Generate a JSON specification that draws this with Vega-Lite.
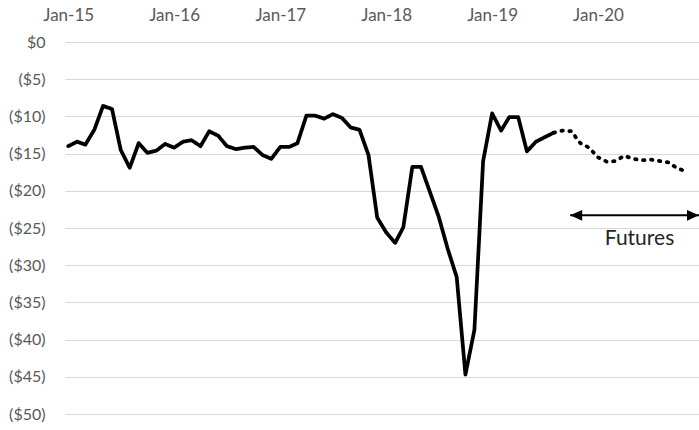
{
  "$schema": "https://vega.github.io/schema/vega-lite/v6.json",
  "width": 634,
  "height": 372,
  "autosize": {"type": "none"},
  "padding": {"left": 65, "top": 42, "right": 0, "bottom": 16},
  "background": "white",
  "config": {
    "view": {"stroke": null},
    "font": "Lato",
    "axis": {"labelFont": "Lato", "labelColor": "#595959", "labelFontSize": 16},
    "axisX": {"labelFontSize": 17}
  },
  "datasets": {
    "prices": [
      {"date": "2015-01-01", "value": -14.0, "series": "Actual"},
      {"date": "2015-02-01", "value": -13.4, "series": "Actual"},
      {"date": "2015-03-01", "value": -13.8, "series": "Actual"},
      {"date": "2015-04-01", "value": -11.8, "series": "Actual"},
      {"date": "2015-05-01", "value": -8.6, "series": "Actual"},
      {"date": "2015-06-01", "value": -9.0, "series": "Actual"},
      {"date": "2015-07-01", "value": -14.5, "series": "Actual"},
      {"date": "2015-08-01", "value": -16.9, "series": "Actual"},
      {"date": "2015-09-01", "value": -13.6, "series": "Actual"},
      {"date": "2015-10-01", "value": -14.9, "series": "Actual"},
      {"date": "2015-11-01", "value": -14.6, "series": "Actual"},
      {"date": "2015-12-01", "value": -13.7, "series": "Actual"},
      {"date": "2016-01-01", "value": -14.2, "series": "Actual"},
      {"date": "2016-02-01", "value": -13.4, "series": "Actual"},
      {"date": "2016-03-01", "value": -13.2, "series": "Actual"},
      {"date": "2016-04-01", "value": -14.0, "series": "Actual"},
      {"date": "2016-05-01", "value": -12.0, "series": "Actual"},
      {"date": "2016-06-01", "value": -12.6, "series": "Actual"},
      {"date": "2016-07-01", "value": -14.0, "series": "Actual"},
      {"date": "2016-08-01", "value": -14.4, "series": "Actual"},
      {"date": "2016-09-01", "value": -14.2, "series": "Actual"},
      {"date": "2016-10-01", "value": -14.1, "series": "Actual"},
      {"date": "2016-11-01", "value": -15.2, "series": "Actual"},
      {"date": "2016-12-01", "value": -15.7, "series": "Actual"},
      {"date": "2017-01-01", "value": -14.1, "series": "Actual"},
      {"date": "2017-02-01", "value": -14.1, "series": "Actual"},
      {"date": "2017-03-01", "value": -13.6, "series": "Actual"},
      {"date": "2017-04-01", "value": -9.9, "series": "Actual"},
      {"date": "2017-05-01", "value": -9.9, "series": "Actual"},
      {"date": "2017-06-01", "value": -10.3, "series": "Actual"},
      {"date": "2017-07-01", "value": -9.7, "series": "Actual"},
      {"date": "2017-08-01", "value": -10.2, "series": "Actual"},
      {"date": "2017-09-01", "value": -11.5, "series": "Actual"},
      {"date": "2017-10-01", "value": -11.8, "series": "Actual"},
      {"date": "2017-11-01", "value": -15.2, "series": "Actual"},
      {"date": "2017-12-01", "value": -23.6, "series": "Actual"},
      {"date": "2018-01-01", "value": -25.6, "series": "Actual"},
      {"date": "2018-02-01", "value": -27.0, "series": "Actual"},
      {"date": "2018-03-01", "value": -24.9, "series": "Actual"},
      {"date": "2018-04-01", "value": -16.8, "series": "Actual"},
      {"date": "2018-05-01", "value": -16.8, "series": "Actual"},
      {"date": "2018-06-01", "value": -20.2, "series": "Actual"},
      {"date": "2018-07-01", "value": -23.5, "series": "Actual"},
      {"date": "2018-08-01", "value": -27.8, "series": "Actual"},
      {"date": "2018-09-01", "value": -31.6, "series": "Actual"},
      {"date": "2018-10-01", "value": -44.7, "series": "Actual"},
      {"date": "2018-11-01", "value": -38.7, "series": "Actual"},
      {"date": "2018-12-01", "value": -16.0, "series": "Actual"},
      {"date": "2019-01-01", "value": -9.6, "series": "Actual"},
      {"date": "2019-02-01", "value": -11.9, "series": "Actual"},
      {"date": "2019-03-01", "value": -10.1, "series": "Actual"},
      {"date": "2019-04-01", "value": -10.1, "series": "Actual"},
      {"date": "2019-05-01", "value": -14.7, "series": "Actual"},
      {"date": "2019-06-01", "value": -13.4, "series": "Actual"},
      {"date": "2019-07-01", "value": -12.8, "series": "Actual"},
      {"date": "2019-08-01", "value": -12.2, "series": "Actual"},
      {"date": "2019-08-01", "value": -12.2, "series": "Futures"},
      {"date": "2019-09-01", "value": -11.9, "series": "Futures"},
      {"date": "2019-10-01", "value": -12.0, "series": "Futures"},
      {"date": "2019-11-01", "value": -13.6, "series": "Futures"},
      {"date": "2019-12-01", "value": -14.2, "series": "Futures"},
      {"date": "2020-01-01", "value": -15.5, "series": "Futures"},
      {"date": "2020-02-01", "value": -16.1, "series": "Futures"},
      {"date": "2020-03-01", "value": -16.0, "series": "Futures"},
      {"date": "2020-04-01", "value": -15.3, "series": "Futures"},
      {"date": "2020-05-01", "value": -15.7, "series": "Futures"},
      {"date": "2020-06-01", "value": -15.9, "series": "Futures"},
      {"date": "2020-07-01", "value": -15.8, "series": "Futures"},
      {"date": "2020-08-01", "value": -16.0, "series": "Futures"},
      {"date": "2020-09-01", "value": -16.2, "series": "Futures"},
      {"date": "2020-10-01", "value": -17.0, "series": "Futures"},
      {"date": "2020-11-01", "value": -17.4, "series": "Futures"}
    ],
    "arrow": [
      {"start": "2019-09-27", "end": "2020-12-14", "y": -23.3}
    ],
    "label": [
      {"date": "2020-05-23", "y": -26.5, "text": "Futures"}
    ]
  },
  "layer": [
    {
      "data": {"name": "prices"},
      "mark": {"type": "line", "color": "black", "strokeWidth": 3.75, "strokeCap": "round", "strokeJoin": "round"},
      "encoding": {
        "x": {
          "field": "date", "type": "temporal",
          "scale": {"type": "utc", "domain": [{"year": 2014, "month": 12, "date": 21, "utc": true}, {"year": 2020, "month": 12, "date": 14, "utc": true}]},
          "axis": {
            "orient": "top", "title": null, "grid": false, "domain": false, "ticks": false,
            "labelPadding": 18, "labelExpr": "utcFormat(datum.value, '%b-%y')",
            "values": [
              {"year": 2015, "month": 1, "date": 1, "utc": true},
              {"year": 2016, "month": 1, "date": 1, "utc": true},
              {"year": 2017, "month": 1, "date": 1, "utc": true},
              {"year": 2018, "month": 1, "date": 1, "utc": true},
              {"year": 2019, "month": 1, "date": 1, "utc": true},
              {"year": 2020, "month": 1, "date": 1, "utc": true}
            ]
          }
        },
        "y": {
          "field": "value", "type": "quantitative",
          "scale": {"domain": [-50, 0], "nice": false, "zero": false},
          "axis": {
            "title": null, "domain": false, "ticks": false, "grid": true,
            "gridColor": "#d9d9d9", "gridWidth": 1.2, "labelPadding": 20,
            "values": [0, -5, -10, -15, -20, -25, -30, -35, -40, -45, -50],
            "labelExpr": "datum.value == 0 ? '$0\u00a0' : '($' + abs(datum.value) + ')'"
          }
        },
        "detail": {"field": "series"},
        "strokeDash": {
          "field": "series", "type": "nominal",
          "scale": {"domain": ["Actual", "Futures"], "range": [[1, 0], [1.5, 6.5]]},
          "legend": null
        }
      }
    },
    {
      "data": {"name": "arrow"},
      "mark": {"type": "rule", "color": "black", "strokeWidth": 2},
      "encoding": {
        "x": {"field": "start", "type": "temporal", "axis": {
            "orient": "top", "title": null, "grid": false, "domain": false, "ticks": false,
            "labelPadding": 18, "labelExpr": "utcFormat(datum.value, '%b-%y')",
            "values": [
              {"year": 2015, "month": 1, "date": 1, "utc": true},
              {"year": 2016, "month": 1, "date": 1, "utc": true},
              {"year": 2017, "month": 1, "date": 1, "utc": true},
              {"year": 2018, "month": 1, "date": 1, "utc": true},
              {"year": 2019, "month": 1, "date": 1, "utc": true},
              {"year": 2020, "month": 1, "date": 1, "utc": true}
            ]
          }},
        "x2": {"field": "end"},
        "y": {"field": "y", "type": "quantitative", "axis": {
            "title": null, "domain": false, "ticks": false, "grid": true,
            "gridColor": "#d9d9d9", "gridWidth": 1.2, "labelPadding": 20,
            "values": [0, -5, -10, -15, -20, -25, -30, -35, -40, -45, -50],
            "labelExpr": "datum.value == 0 ? '$0\u00a0' : '($' + abs(datum.value) + ')'"
          }}
      }
    },
    {
      "data": {"name": "arrow"},
      "mark": {"type": "point", "filled": true, "color": "black", "opacity": 1, "size": 576, "shape": "M0,0 L1,-0.45 L1,0.45 Z"},
      "encoding": {
        "x": {"field": "start", "type": "temporal", "axis": {
            "orient": "top", "title": null, "grid": false, "domain": false, "ticks": false,
            "labelPadding": 18, "labelExpr": "utcFormat(datum.value, '%b-%y')",
            "values": [
              {"year": 2015, "month": 1, "date": 1, "utc": true},
              {"year": 2016, "month": 1, "date": 1, "utc": true},
              {"year": 2017, "month": 1, "date": 1, "utc": true},
              {"year": 2018, "month": 1, "date": 1, "utc": true},
              {"year": 2019, "month": 1, "date": 1, "utc": true},
              {"year": 2020, "month": 1, "date": 1, "utc": true}
            ]
          }},
        "y": {"field": "y", "type": "quantitative", "axis": {
            "title": null, "domain": false, "ticks": false, "grid": true,
            "gridColor": "#d9d9d9", "gridWidth": 1.2, "labelPadding": 20,
            "values": [0, -5, -10, -15, -20, -25, -30, -35, -40, -45, -50],
            "labelExpr": "datum.value == 0 ? '$0\u00a0' : '($' + abs(datum.value) + ')'"
          }}
      }
    },
    {
      "data": {"name": "arrow"},
      "mark": {"type": "point", "filled": true, "color": "black", "opacity": 1, "size": 576, "shape": "M0,0 L-1,-0.45 L-1,0.45 Z"},
      "encoding": {
        "x": {"field": "end", "type": "temporal", "axis": {
            "orient": "top", "title": null, "grid": false, "domain": false, "ticks": false,
            "labelPadding": 18, "labelExpr": "utcFormat(datum.value, '%b-%y')",
            "values": [
              {"year": 2015, "month": 1, "date": 1, "utc": true},
              {"year": 2016, "month": 1, "date": 1, "utc": true},
              {"year": 2017, "month": 1, "date": 1, "utc": true},
              {"year": 2018, "month": 1, "date": 1, "utc": true},
              {"year": 2019, "month": 1, "date": 1, "utc": true},
              {"year": 2020, "month": 1, "date": 1, "utc": true}
            ]
          }},
        "y": {"field": "y", "type": "quantitative", "axis": {
            "title": null, "domain": false, "ticks": false, "grid": true,
            "gridColor": "#d9d9d9", "gridWidth": 1.2, "labelPadding": 20,
            "values": [0, -5, -10, -15, -20, -25, -30, -35, -40, -45, -50],
            "labelExpr": "datum.value == 0 ? '$0\u00a0' : '($' + abs(datum.value) + ')'"
          }}
      }
    },
    {
      "data": {"name": "label"},
      "mark": {"type": "text", "font": "Lato", "fontSize": 21, "color": "#262626", "align": "center", "baseline": "middle"},
      "encoding": {
        "x": {"field": "date", "type": "temporal", "axis": {
            "orient": "top", "title": null, "grid": false, "domain": false, "ticks": false,
            "labelPadding": 18, "labelExpr": "utcFormat(datum.value, '%b-%y')",
            "values": [
              {"year": 2015, "month": 1, "date": 1, "utc": true},
              {"year": 2016, "month": 1, "date": 1, "utc": true},
              {"year": 2017, "month": 1, "date": 1, "utc": true},
              {"year": 2018, "month": 1, "date": 1, "utc": true},
              {"year": 2019, "month": 1, "date": 1, "utc": true},
              {"year": 2020, "month": 1, "date": 1, "utc": true}
            ]
          }},
        "y": {"field": "y", "type": "quantitative", "axis": {
            "title": null, "domain": false, "ticks": false, "grid": true,
            "gridColor": "#d9d9d9", "gridWidth": 1.2, "labelPadding": 20,
            "values": [0, -5, -10, -15, -20, -25, -30, -35, -40, -45, -50],
            "labelExpr": "datum.value == 0 ? '$0\u00a0' : '($' + abs(datum.value) + ')'"
          }},
        "text": {"field": "text"}
      }
    }
  ]
}
